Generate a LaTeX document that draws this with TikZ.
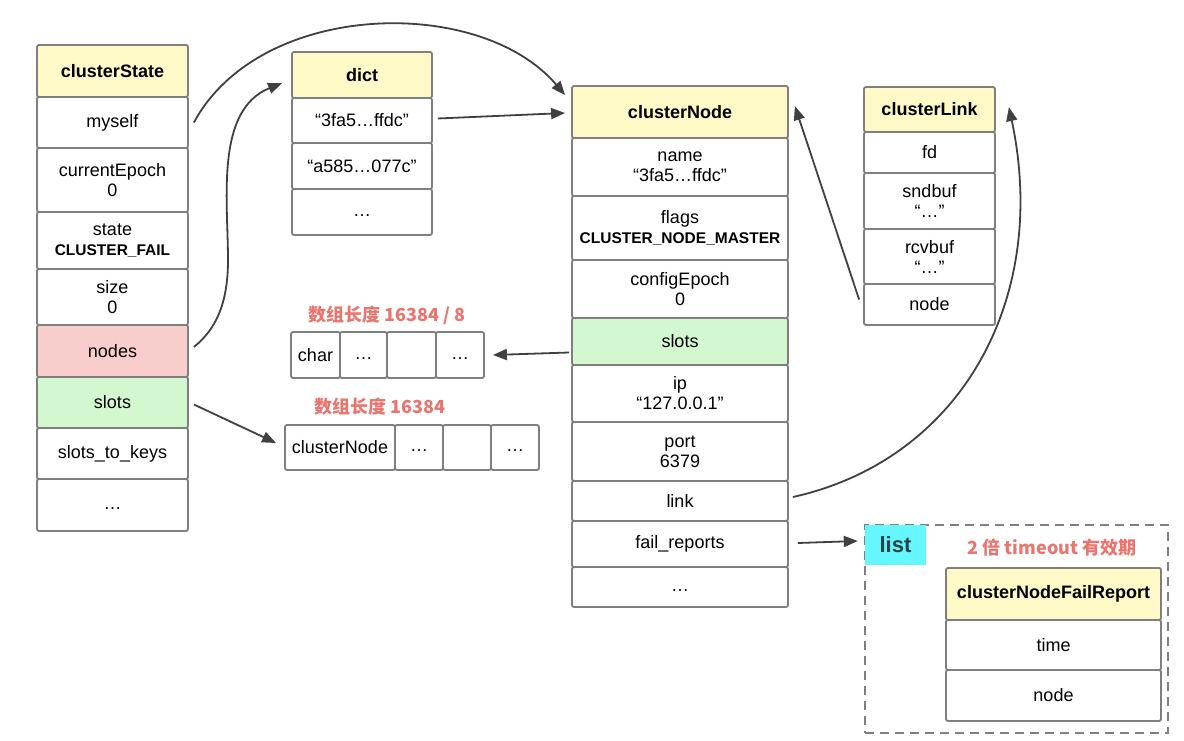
\documentclass[tikz,border=0pt]{standalone}
\usepackage{fontspec}
\setmainfont{Liberation Sans}
\newfontfamily\cjk{Noto Sans CJK SC}
\usetikzlibrary{arrows.meta}
\definecolor{hdr}{HTML}{FFF9C8}
\definecolor{pinkc}{HTML}{F8CECC}
\definecolor{greenc}{HTML}{D3F7CF}
\definecolor{cyanc}{HTML}{66F6FF}
\definecolor{redtxt}{HTML}{EA756F}
\definecolor{bordergray}{HTML}{7F7F7F}
\definecolor{arrowgray}{HTML}{404040}
\definecolor{listtxt}{HTML}{2A4545}
\tikzset{
  cell/.style={draw=bordergray, line width=1.8pt, rounded corners=2pt, fill=white,
    inner sep=0pt, align=center, font=\fontsize{18}{20}\selectfont},
  hd/.style={fill=hdr, font=\bfseries\fontsize{18}{20}\selectfont},
  pk/.style={fill=pinkc},
  gr/.style={fill=greenc},
  arr/.style={draw=arrowgray, line width=1.8pt, -{Triangle[length=14pt,width=11pt]}},
  redlbl/.style={text=redtxt, font=\cjk\bfseries\fontsize{18}{20}\selectfont, inner sep=0pt},
}
\newcommand\cellbox[7]{\node[cell,#6,minimum width={(#4-#2)*1pt},minimum height={(#5-#3)*1pt}] (#1) at ({(#2+#4)/2},{(#3+#5)/2}) {#7};}
\newcommand\capb[1]{{\bfseries\fontsize{15.5}{20}\selectfont #1}}
\newcommand\dotsc{\strut…}
\begin{document}
\begin{tikzpicture}[x=1pt,y=-1pt]
\useasboundingbox[fill=white] (0,0) rectangle (1184,741);
% clusterState
\cellbox{cs0}{37}{45}{188}{97}{hd}{clusterState}
\cellbox{cs1}{37}{97}{188}{148}{}{myself}
\cellbox{cs2}{37}{148}{188}{212}{}{currentEpoch\\0}
\cellbox{cs3}{37}{212}{188}{269}{}{state\\\capb{CLUSTER\_FAIL}}
\cellbox{cs4}{37}{269}{188}{325}{}{size\\0}
\cellbox{cs5}{37}{325}{188}{377}{pk}{nodes}
\cellbox{cs6}{37}{377}{188}{428}{gr}{slots}
\cellbox{cs7}{37}{428}{188}{479}{}{slots\_to\_keys}
\cellbox{cs8}{37}{479}{188}{531}{}{\dotsc}
% dict
\cellbox{dh}{292}{52}{432}{98}{hd}{dict}
\cellbox{d1}{292}{98}{432}{143}{}{“3fa5…ffdc”}
\cellbox{d2}{292}{143}{432}{189}{}{“a585…077c”}
\cellbox{d3}{292}{189}{432}{235}{}{\dotsc}
% clusterNode
\cellbox{cnh}{572}{86}{788}{138}{hd}{clusterNode}
\cellbox{cnn}{572}{138}{788}{196}{}{name\\“3fa5…ffdc”}
\cellbox{cnf}{572}{196}{788}{260}{}{flags\\\capb{CLUSTER\_NODE\_MASTER}}
\cellbox{cne}{572}{260}{788}{318}{}{configEpoch\\0}
\cellbox{cns}{572}{318}{788}{365}{gr}{slots}
\cellbox{cni}{572}{365}{788}{422}{}{ip\\“127.0.0.1”}
\cellbox{cnp}{572}{422}{788}{481}{}{port\\6379}
\cellbox{cnl}{572}{481}{788}{521}{}{link}
\cellbox{cnr}{572}{521}{788}{567}{}{fail\_reports}
\cellbox{cnd}{572}{567}{788}{607}{}{\dotsc}
% clusterLink
\cellbox{clh}{864}{87}{995}{132}{hd}{clusterLink}
\cellbox{cl1}{864}{132}{995}{173}{}{fd}
\cellbox{cl2}{864}{173}{995}{229}{}{sndbuf\\“…”}
\cellbox{cl3}{864}{229}{995}{284}{}{rcvbuf\\“…”}
\cellbox{cl4}{864}{284}{995}{325}{}{node}
% char array
\node[redlbl] (lblA) at (387,315) {数组长度 16384 / 8};
\cellbox{ch1}{291}{332}{340}{378}{}{char}
\cellbox{ch2}{340}{332}{387}{378}{}{\dotsc}
\cellbox{ch3}{387}{332}{436}{378}{}{}
\cellbox{ch4}{436}{332}{484}{378}{}{\dotsc}
% clusterNode array
\node[redlbl] (lblB) at (380,407) {数组长度 16384};
\cellbox{ca1}{285}{425}{395}{470}{}{clusterNode}
\cellbox{ca2}{395}{425}{443}{470}{}{\dotsc}
\cellbox{ca3}{443}{425}{491}{470}{}{}
\cellbox{ca4}{491}{425}{539}{470}{}{\dotsc}
% list
\node[draw=bordergray, line width=1.8pt, dash pattern=on 9pt off 6pt, minimum width=303pt, minimum height=208pt, inner sep=0pt] (listbox) at (1016.5,629) {};
\node[fill=cyanc, minimum width=61pt, minimum height=40pt, inner sep=0pt, text=listtxt, font=\bfseries\fontsize{22}{24}\selectfont] (listlbl) at (895.5,545) {list};
\node[redlbl] (lblC) at (1052,548) {2 倍 timeout 有效期};
\cellbox{fr0}{946}{568}{1161}{620}{hd}{clusterNodeFailReport}
\cellbox{fr1}{946}{620}{1161}{670}{}{time}
\cellbox{fr2}{946}{670}{1161}{721}{}{node}
% arrows
\draw[arr] ([xshift=5pt]cs1.east) .. controls (260,0) and (480,-5) .. ([xshift=-6pt,yshift=-10pt]cnh.north west);
\draw[arr] ([xshift=5pt,yshift=4pt]cs5.east) .. controls (215,330) and (228,305) .. (228,260) .. controls (228,200) and (215,110) .. ([xshift=-9pt,yshift=-32pt]dh.north west);
\draw[arr] ([xshift=5pt,yshift=2pt]d1.east) -- ([xshift=-6pt,yshift=-1pt]cnh.west);
\draw[arr] ([xshift=-2pt,yshift=-11pt]cns.west) -- ([xshift=8pt]ch4.east);
\draw[arr] ([xshift=5pt,yshift=-2pt]cs6.east) -- ([xshift=-8pt,yshift=4.5pt]ca1.west);
\draw[arr] ([xshift=-4pt,yshift=5pt]cl4.west) -- ([xshift=6pt,yshift=-21pt]cnh.north east);
\draw[arr] ([xshift=4pt,yshift=4pt]cnl.east) .. controls (960,460) and (1050,300) .. ([xshift=13pt,yshift=-21pt]clh.north east);
\draw[arr] ([xshift=9pt,yshift=1pt]cnr.east) -- ([xshift=-7pt,yshift=4pt]listlbl.west);
\end{tikzpicture}
\end{document}
